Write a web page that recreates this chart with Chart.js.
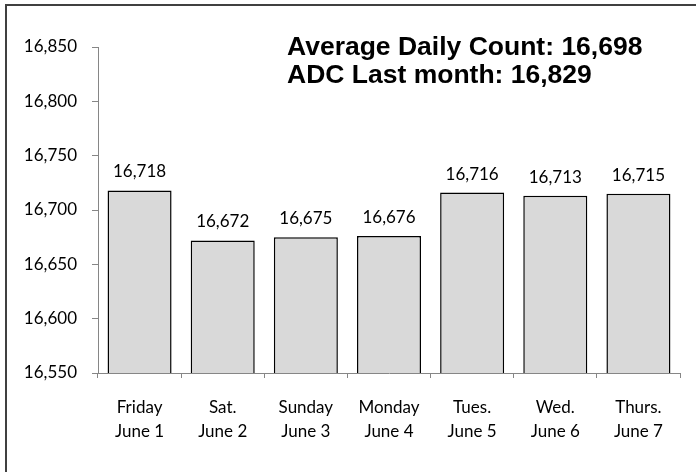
<!DOCTYPE html>
<html>
<head>
<meta charset="utf-8">
<script src="https://cdn.jsdelivr.net/npm/chart.js@4"></script>
<style>
  html, body { margin: 0; padding: 0; background: #fff; }
  #wrap { position: relative; width: 696px; height: 472px; }
</style>
</head>
<body>
<div id="wrap"><canvas id="chart" width="696" height="472"></canvas></div>
<script>
const days = ["Friday", "Sat.", "Sunday", "Monday", "Tues.", "Wed.", "Thurs."];
const dates = ["June 1", "June 2", "June 3", "June 4", "June 5", "June 6", "June 7"];
const counts = [16718, 16672, 16675, 16676, 16716, 16713, 16715];
const yTicks = [16550, 16600, 16650, 16700, 16750, 16800, 16850];
const noteLines = ["Average Daily Count: 16,698", "ADC Last month: 16,829"];

const labelFont = "Lato, 'Open Sans', sans-serif";
const fmt = (v) => v.toLocaleString("en-US");

// frame: only top and left edges are visible in the picture
const framePlugin = {
  id: "frame",
  beforeDraw(chart) {
    const ctx = chart.ctx;
    ctx.save();
    ctx.fillStyle = "#404040";
    ctx.fillRect(5, 4, chart.width - 5, 2);
    ctx.fillRect(5, 4, 2, chart.height - 4);
    ctx.restore();
  },
};

// values above each bar
const valueLabels = {
  id: "valueLabels",
  afterDatasetsDraw(chart) {
    const ctx = chart.ctx;
    const meta = chart.getDatasetMeta(0);
    ctx.save();
    ctx.font = "17px " + labelFont;
    ctx.fillStyle = "#000";
    ctx.textAlign = "center";
    ctx.textBaseline = "alphabetic";
    meta.data.forEach((bar, i) => {
      ctx.fillText(fmt(counts[i]), bar.x, bar.y - 13);
    });
    ctx.restore();
  },
};

// bold note in the upper right of the plot
const notePlugin = {
  id: "note",
  afterDraw(chart) {
    const ctx = chart.ctx;
    const area = chart.chartArea;
    ctx.save();
    ctx.font = "bold 26.5px 'Liberation Sans', Arial, sans-serif";
    ctx.fillStyle = "#000";
    ctx.textAlign = "left";
    ctx.textBaseline = "alphabetic";
    noteLines.forEach((line, i) => {
      ctx.fillText(line, area.left + 189, area.top + 8 + i * 28);
    });
    ctx.restore();
  },
};

new Chart(document.getElementById("chart"), {
  type: "bar",
  plugins: [framePlugin, valueLabels, notePlugin],
  data: {
    labels: days.map((d, i) => [d, dates[i]]),
    datasets: [
      {
        data: counts,
        backgroundColor: "#d9d9d9",
        borderColor: "#000",
        borderWidth: 1.5,
        barPercentage: 0.77,
        categoryPercentage: 1,
      },
    ],
  },
  options: {
    responsive: false,
    animation: false,
    layout: { padding: { top: 47, right: 16, bottom: 0, left: 0 } },
    plugins: {
      legend: { display: false },
      tooltip: { enabled: false },
      title: { display: false },
    },
    scales: {
      x: {
        grid: {
          offset: true,
          drawOnChartArea: false,
          drawTicks: true,
          tickLength: 5,
          color: "#868686",
        },
        border: { color: "#868686", width: 1 },
        ticks: {
          color: "#000",
          padding: 18,
          maxRotation: 0,
          font: { family: labelFont, size: 17, lineHeight: 1.4 },
        },
        afterFit(scale) {
          scale.height = 99;
        },
      },
      y: {
        min: yTicks[0],
        max: yTicks[yTicks.length - 1],
        afterBuildTicks(scale) {
          scale.ticks = yTicks.map((v) => ({ value: v }));
        },
        grid: {
          drawOnChartArea: false,
          drawTicks: true,
          tickLength: 6,
          color: "#868686",
        },
        border: { color: "#868686", width: 1 },
        ticks: {
          color: "#000",
          padding: 15,
          font: { family: labelFont, size: 17 },
          callback: (v) => fmt(v),
        },
        afterFit(scale) {
          scale.width = 98;
        },
      },
    },
  },
});
</script>
</body>
</html>
